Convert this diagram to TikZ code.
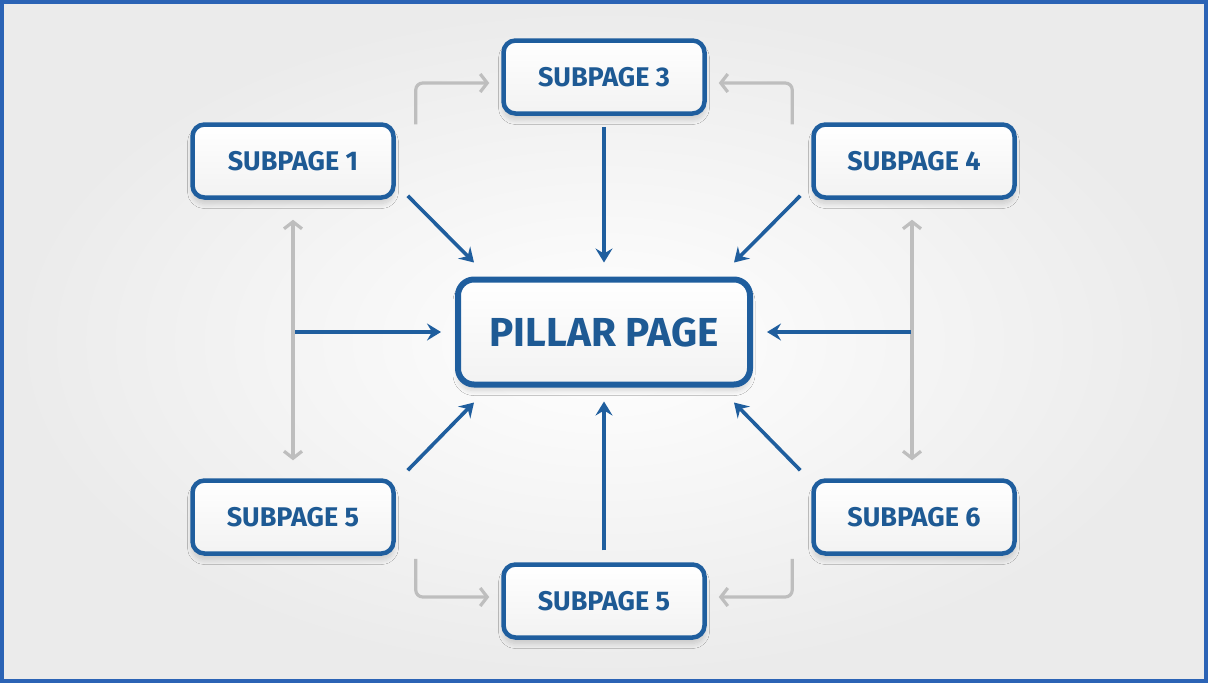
\documentclass[tikz,border=0pt]{standalone}
\usepackage{fontspec}
\setsansfont{Fira Sans}
\usetikzlibrary{calc,arrows.meta,shadows.blur}

\definecolor{hubblue}{HTML}{1F5E9E}
\definecolor{labelblue}{HTML}{1E5A94}
\definecolor{linkgray}{HTML}{BEBEBE}
\definecolor{frameblue}{HTML}{2B63B5}

\tikzset{
  pagebox/.style={draw=hubblue, line width=4.5pt, rounded corners=12pt,
    top color=white, bottom color=black!5,
    minimum width=201pt, minimum height=73pt,
    font=\sffamily\bfseries\fontsize{27}{30}\selectfont, text=labelblue,
    blur shadow={shadow xshift=0pt, shadow yshift=-6pt,
      shadow blur radius=5pt, shadow blur steps=12, shadow opacity=16}},
  pillarbox/.style={pagebox, line width=6pt, rounded corners=16pt,
    minimum width=292pt, minimum height=105pt,
    font=\sffamily\bfseries\fontsize{40.5}{44}\selectfont},
  bluelink/.style={draw=hubblue, line width=3.6pt,
    -{Stealth[length=14pt,width=17pt,inset=5pt]}},
  graylink/.style={draw=linkgray, line width=3.2pt, rounded corners=7pt,
    -{Straight Barb[length=7pt,width=18pt]}},
  graydouble/.style={graylink, {Straight Barb[length=7pt,width=18pt]}-{Straight Barb[length=7pt,width=18pt]}}
}

\begin{document}
\begin{tikzpicture}[x=1pt,y=-1pt]
  \useasboundingbox (0,0) rectangle (1208,683);
  \shade[inner color=white, outer color=black!8] (0,0) rectangle (1208,683);
  \draw[frameblue, line width=4pt] (2,2) rectangle (1206,681);

  % pages
  \node[pillarbox] (pillar) at (604,332) {PILLAR PAGE};
  \node[pagebox] (sub3) at (604,77) {SUBPAGE 3};
  \node[pagebox] (sub1) at (293,161) {SUBPAGE 1};
  \node[pagebox] (sub4) at (914,161) {SUBPAGE 4};
  \node[pagebox] (sub5l) at (293,517) {SUBPAGE 5};
  \node[pagebox] (sub6) at (914,517) {SUBPAGE 6};
  \node[pagebox] (sub5b) at (604,601) {SUBPAGE 5};

  % links between subpages
  \coordinate (midl) at (sub1.south |- pillar.west);
  \coordinate (midr) at ($(sub4.south |- pillar.east)+(-2,0)$);
  \draw[graydouble] ($(sub1.south)+(0,20)$) -- ($(sub5l.north)+(0,-18)$);
  \draw[graydouble] ($(sub4.south)+(-2,20)$) -- ($(sub6.north)+(-2,-18)$);
  \draw[graylink] ($(sub1.north east)+(20,2)$) |- ($(sub3.west)+(-12,6)$);
  \draw[graylink] ($(sub4.north west)+(-19,2)$) |- ($(sub3.east)+(12,6)$);
  \draw[graylink] ($(sub5l.south east)+(20,3)$) |- ($(sub5b.west)+(-12,-4)$);
  \draw[graylink] ($(sub6.south west)+(-19,3)$) |- ($(sub5b.east)+(12,-4)$);

  % links into the pillar page
  \draw[bluelink] ($(sub3.south)+(0,11)$) -- ($(pillar.north)+(0,-14)$);
  \draw[bluelink] ($(sub5b.north)+(0,-12)$) -- ($(pillar.south)+(0,14)$);
  \draw[bluelink] ($(midl)+(2,0)$) -- ($(pillar.west)+(-14,0)$);
  \draw[bluelink] ($(midr)+(-1,0)$) -- ($(pillar.east)+(14,0)$);
  \draw[bluelink] ($(sub1.south east)+(12,-4)$) -- ($(pillar.north west)+(19,-14)$);
  \draw[bluelink] ($(sub4.south west)+(-11,-4)$) -- ($(pillar.north east)+(-19,-14)$);
  \draw[bluelink] ($(sub5l.north east)+(12,-8)$) -- ($(pillar.south west)+(19,15)$);
  \draw[bluelink] ($(sub6.north west)+(-11,-8)$) -- ($(pillar.south east)+(-19,15)$);
\end{tikzpicture}
\end{document}
